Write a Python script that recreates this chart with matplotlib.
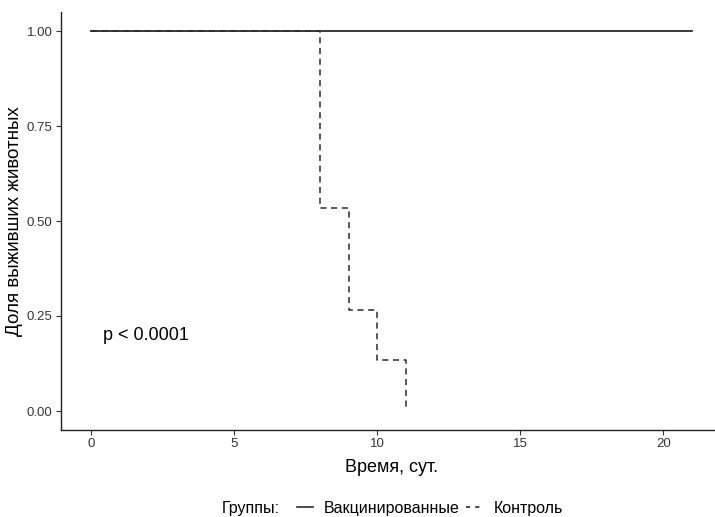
import matplotlib.pyplot as plt
from matplotlib.lines import Line2D

plt.rcParams['font.family'] = ['Liberation Sans', 'DejaVu Sans']

# Kaplan-Meier data
vac_time = [0, 21]
vac_surv = [1.0, 1.0]

ctrl_time = [0, 8, 9, 10, 11]
ctrl_surv = [1.0, 0.533, 0.267, 0.133, 0.0]

xticks = [0, 5, 10, 15, 20]
yticks = [0.00, 0.25, 0.50, 0.75, 1.00]
ytick_labels = ['0.00', '0.25', '0.50', '0.75', '1.00']
pval_text = 'p < 0.0001'

W, H = 715, 517
fig = plt.figure(figsize=(W / 100, H / 100), dpi=100)
ax = fig.add_axes([61 / W, 87 / H, (722 - 61) / W, 418 / H])

col = '#2b2b2b'
ax.step(ctrl_time, ctrl_surv, where='post', color=col, lw=1.1, ls=(0, (4, 3)), zorder=2)
ax.step(vac_time, vac_surv, where='post', color=col, lw=1.3, ls='-', zorder=3)

ax.set_xlim(-1.05, 22.05)
ax.set_ylim(-0.05, 1.05)
ax.set_xticks(xticks)
ax.set_yticks(yticks)
ax.set_yticklabels(ytick_labels)
ax.tick_params(labelsize=9.5, labelcolor='#333333', color='#333333', length=3.5, width=0.8, pad=2.5)
for s in ['top', 'right']:
    ax.spines[s].set_visible(False)
for s in ['left', 'bottom']:
    ax.spines[s].set_color('#222222')
    ax.spines[s].set_linewidth(1.0)

ax.set_xlabel('Время, сут.', fontsize=13, color='black', labelpad=6)
ax.set_ylabel('Доля выживших животных', fontsize=13.5, color='black', labelpad=3)

ax.text(0.42, 0.2, pval_text, fontsize=13, ha='left', va='center')

fig.text(222 / W, 1 - 508 / H, 'Группы:', fontsize=11.5, ha='left', va='center')
handles = [Line2D([], [], color=col, lw=1.2, ls='-'),
           Line2D([], [], color=col, lw=1.2, ls=(0, (2.5, 3)))]
fig.legend(handles, ['Вакцинированные', 'Контроль'], loc='center left',
           bbox_to_anchor=(297 / W, 1 - 508 / H), ncol=2, frameon=False,
           fontsize=11.5, handlelength=1.0, handletextpad=0.7, columnspacing=0.4,
           borderaxespad=0, borderpad=0)

fig.savefig('out.png', dpi=100)
plt.close()
